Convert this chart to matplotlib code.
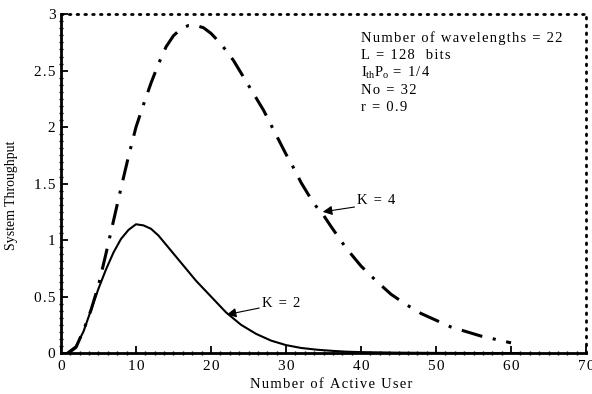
import matplotlib
matplotlib.use("Agg")
import matplotlib.pyplot as plt
from matplotlib.ticker import MultipleLocator

plt.rcParams['font.family'] = ['Liberation Serif', 'DejaVu Serif']
plt.rcParams['mathtext.fontset'] = 'stix'

# K = 2 curve
x_k2 = [0.8, 2, 3, 4, 5, 6, 7, 8, 9, 10, 11, 12, 13, 14, 15, 16, 17, 18, 19, 20,
        22, 24, 26, 28, 30, 32, 34, 36, 38, 40, 45, 50, 55, 61]
y_k2 = [0.0, 0.06, 0.19, 0.38, 0.57, 0.74, 0.89, 1.01, 1.09, 1.14, 1.13, 1.10, 1.04,
        0.96, 0.88, 0.80, 0.72, 0.64, 0.57, 0.50, 0.36, 0.25, 0.17, 0.11, 0.07,
        0.045, 0.03, 0.02, 0.012, 0.008, 0.003, 0.001, 0.0, 0.0]

# K = 4 curve
x_k4 = [1, 2, 3, 4, 5, 6, 7, 8, 9, 10, 11, 12, 13, 14, 15, 16, 17, 18, 19, 20,
        21, 22, 23, 24, 25, 26, 27, 28, 29, 30, 31, 32, 33, 34, 35, 36, 38, 40,
        42, 44, 46, 48, 50, 52, 54, 56, 58, 60]
y_k4 = [0.0, 0.05, 0.2, 0.38, 0.6, 0.88, 1.17, 1.46, 1.74, 2.0, 2.2, 2.39, 2.56,
        2.71, 2.81, 2.87, 2.90, 2.90, 2.88, 2.83, 2.76, 2.68, 2.59, 2.48, 2.37,
        2.26, 2.15, 2.02, 1.89, 1.76, 1.64, 1.51, 1.40, 1.30, 1.22, 1.12, 0.93,
        0.77, 0.64, 0.52, 0.43, 0.35, 0.29, 0.23, 0.19, 0.15, 0.12, 0.09]

x_ticks = [0, 10, 20, 30, 40, 50, 60, 70]
y_ticks = [0, 0.5, 1, 1.5, 2, 2.5, 3]
y_ticklabels = ['0', '0.5', '1', '1.5', '2', '2.5', '3']

params = ["Number of wavelengths = 22", "L = 128  bits",
          None, "No = 32", "r = 0.9"]


def sp(s):
    # wide letter spacing like the original
    return '\u200a'.join(s)


fig = plt.figure(figsize=(5.92, 3.94), dpi=100)
ax = fig.add_axes([0.103, 0.104, 0.887, 0.860])

ax.plot(x_k2, y_k2, color='black', lw=1.5)
ax.plot(x_k4, y_k4, color='black', lw=2.2, linestyle=(0, (7, 3.5, 1, 3.5)))

ax.set_xlim(0, 70)
ax.set_ylim(0, 3)
ax.set_xticks(x_ticks)
ax.set_xticklabels([sp(str(v)) for v in x_ticks])
ax.set_yticks(y_ticks)
ax.set_yticklabels([sp(v) for v in y_ticklabels])
ax.xaxis.set_minor_locator(MultipleLocator(1.25))
ax.yaxis.set_minor_locator(MultipleLocator(0.0625))
ax.tick_params(which='major', direction='in', length=5, width=1.3, labelsize=11)
ax.tick_params(axis='x', which='major', pad=5)
ax.tick_params(axis='y', which='major', pad=4)
ax.tick_params(which='minor', direction='inout', length=3.5, width=1)

for s in ['left', 'bottom']:
    ax.spines[s].set_linewidth(2)
for s in ['top', 'right']:
    ax.spines[s].set_linewidth(2)
    ax.spines[s].set_linestyle((0, (0.6, 2.2)))
    ax.spines[s].set_capstyle('round')

ax.set_xlabel(sp("Number of Active User"), fontsize=10.5, labelpad=1)
ax.xaxis.set_label_coords(0.514, -0.075)
ax.set_ylabel("System Throughput", fontsize=10)
ax.yaxis.set_label_coords(-0.082, 0.466)

for i, t in enumerate(params):
    y = 2.79 - i * 0.155
    if t is None:
        ax.text(40.0, y, r"$\mathregular{I_{th}P_o}$" + sp(" = 1/4"), fontsize=10.5,
                va='center', ha='left')
    else:
        ax.text(40.0, y, sp(t), fontsize=10.5, va='center', ha='left')

ax.annotate(sp("K = 4"), xy=(34.9, 1.25), xytext=(39.5, 1.35), fontsize=10.5,
            va='center', ha='left',
            arrowprops=dict(arrowstyle='-|>', color='black', lw=0.8,
                            mutation_scale=14, shrinkA=0, shrinkB=0,
                            relpos=(0.15, 0.1)))
ax.annotate(sp("K = 2"), xy=(22.1, 0.34), xytext=(26.8, 0.38), fontsize=10.5,
            va='bottom', ha='left',
            arrowprops=dict(arrowstyle='-|>', color='black', lw=0.8,
                            mutation_scale=14, shrinkA=0, shrinkB=0))

fig.savefig("out.png", dpi=100)
